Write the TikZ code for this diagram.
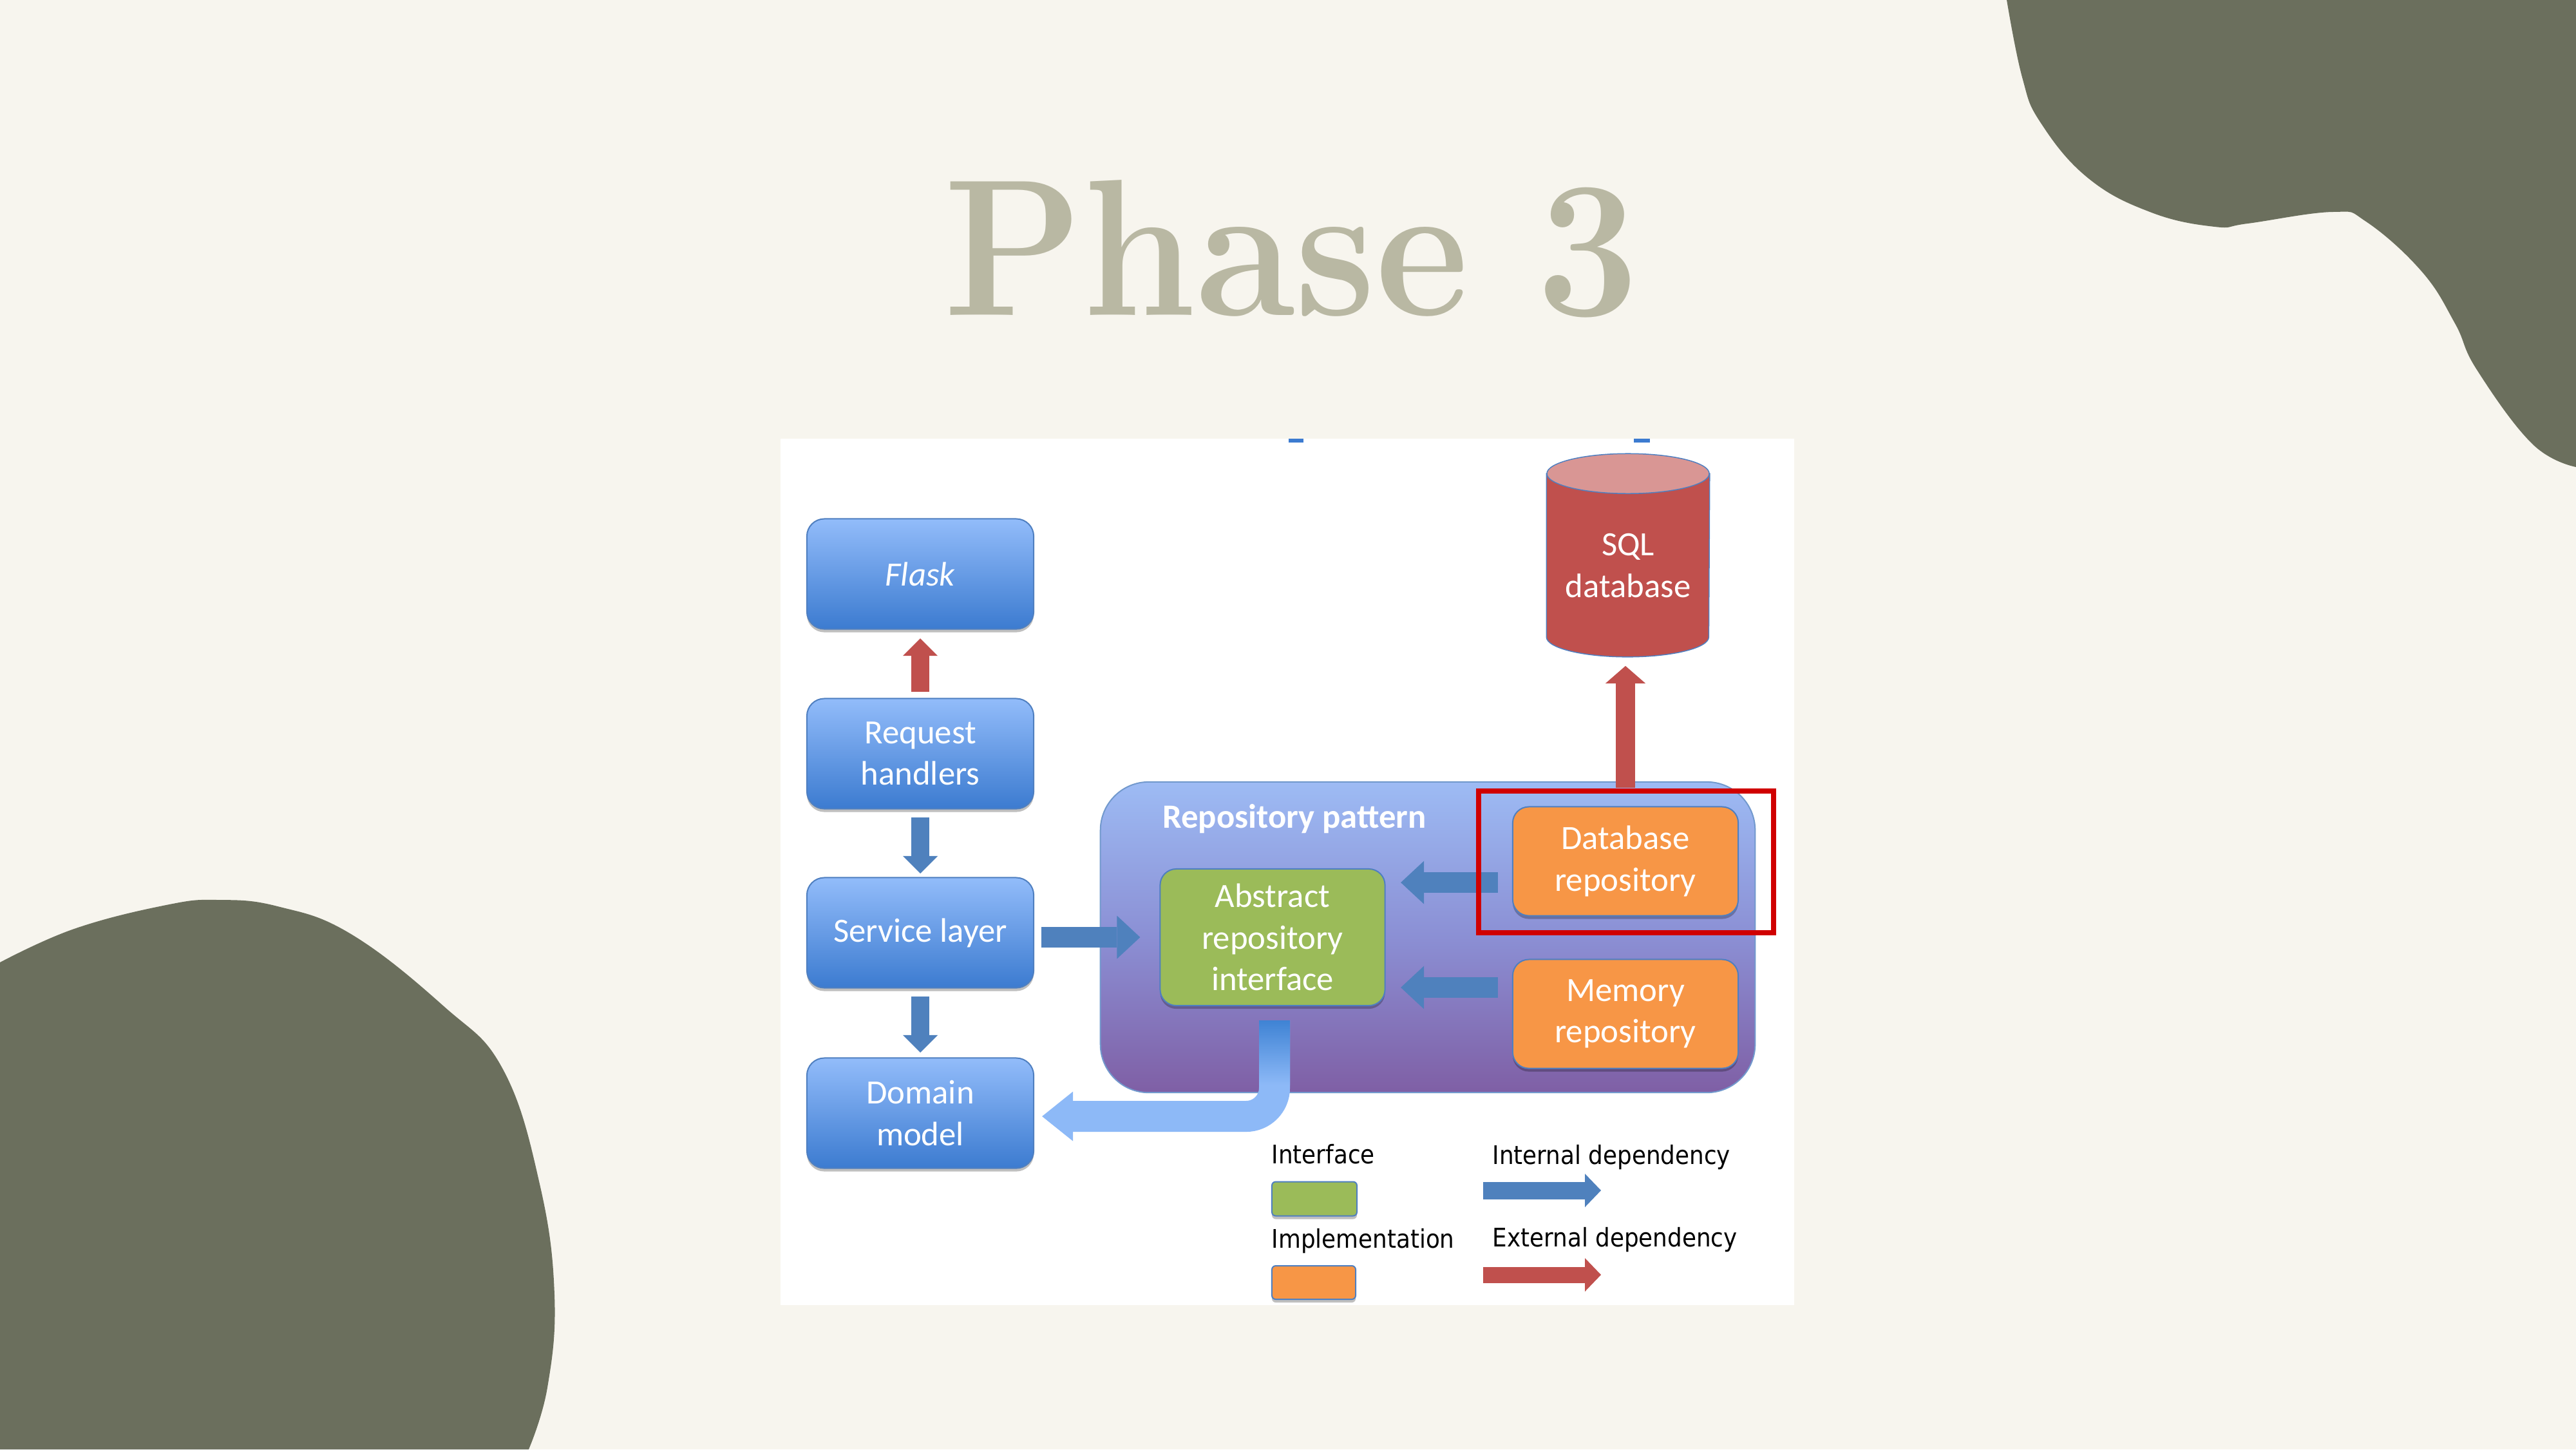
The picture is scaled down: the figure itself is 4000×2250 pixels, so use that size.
\documentclass[tikz,border=0pt]{standalone}
\usepackage{fontspec}
\newfontfamily\boxfont{Carlito}
\newfontfamily\legendfont{DejaVu Sans Condensed}
\usetikzlibrary{arrows.meta,shadows,positioning,calc}

\definecolor{cream}{HTML}{F7F5EE}
\definecolor{blob}{HTML}{6B6F5D}
\definecolor{titlegray}{HTML}{B9B8A3}
\definecolor{boxtop}{HTML}{92BCFA}
\definecolor{boxbot}{HTML}{3C7BD0}
\definecolor{boxedge}{HTML}{4F7FC0}
\definecolor{arrblue}{HTML}{4F81BD}
\definecolor{arrred}{HTML}{C0504D}
\definecolor{ifgreen}{HTML}{9BBB59}
\definecolor{imporange}{HTML}{F79646}
\definecolor{repotop}{HTML}{9DBBF4}
\definecolor{repomid}{HTML}{8B8FD4}
\definecolor{repobot}{HTML}{7F5FA5}
\definecolor{hlred}{HTML}{D00000}
\definecolor{dbtop}{HTML}{D99694}
\definecolor{bendtop}{HTML}{3F83D4}
\definecolor{bendlight}{HTML}{8DB9F7}

\begin{document}
\begin{tikzpicture}[x=0.01cm,y=-0.01cm,
  boxbase/.style={rounded corners=0.25cm, draw=boxedge, line width=0.02cm, text=white, align=center,
    font=\boxfont\fontsize{15}{18.3}\selectfont,
    drop shadow={shadow xshift=0cm, shadow yshift=-0.05cm, opacity=0.25, fill=black}},
  layer/.style={boxbase, rounded corners=0.27cm, minimum width=3.52cm, minimum height=1.71cm,
    top color=boxtop, bottom color=boxbot},
  iface/.style={boxbase, fill=ifgreen, minimum width=3.49cm, minimum height=2.12cm},
  impl/.style={boxbase, fill=imporange, minimum width=3.50cm, minimum height=1.69cm},
  repo/.style={rounded corners=0.75cm, minimum width=10.16cm, minimum height=4.82cm,
    top color=repotop, bottom color=repobot, middle color=repomid, draw=boxedge!80, line width=0.02cm},
  legend/.style={inner sep=0pt, anchor=base west, font=\legendfont\fontsize{11.3}{13.5}\selectfont},
  intdep/.style={arrblue, line width=0.28cm, -{Triangle[length=0.27cm, width=0.54cm, line width=0pt]}},
  extdep/.style={arrred, line width=0.28cm, -{Triangle[length=0.27cm, width=0.54cm, line width=0pt]}},
  wide/.style={line width=0.32cm, -{Triangle[length=0.36cm, width=0.67cm, line width=0pt]}}]

\useasboundingbox[fill=cream] (0,0) rectangle (4000,2250);
\fill[blob] plot[smooth, tension=0.7] coordinates {(3116,0) (3140,120) (3169,191) (3243,277) (3341,330)
  (3439,352) (3490,347) (3622,329) (3674,344) (3760,421) (3812,502) (3846,574) (3932,689) (4000,725)}
  -- (4000,0) -- cycle;
\fill[blob] plot[smooth, tension=0.7] coordinates {(0,1494) (115,1442) (258,1405) (339,1397) (431,1407)
  (545,1450) (689,1562) (781,1660) (838,1838) (861,2010) (850,2154) (821,2250)}
  -- (0,2250) -- cycle;

\node[text=titlegray, font=\bfseries\fontsize{86}{90}\selectfont, anchor=base] (title) at (2005,489) {\scalebox{0.93}[1]{Phase 3}};

\fill[white] (1212,681) rectangle (2786,2026);
\fill[boxbot] (2001,681) rectangle (2024,687);
\fill[boxbot] (2537,681) rectangle (2562,687);

\node[layer] (flask) at (1429,891) {\textit{Flask}};
\node[layer] (handlers) at (1429,1170) {Request\\handlers};
\node[layer] (service) at (1429,1448) {Service layer};
\node[layer] (domain) at (1429,1728) {Domain\\model};

\node[repo] (pattern) at (2217,1455) {};
\node[text=white, font=\boxfont\bfseries\fontsize{15}{18}\selectfont] (patlabel) at (2010,1271) {Repository pattern};
\node[iface] (abstract) at (1976,1455) {Abstract\\repository\\interface};
\node[impl] (dbrepo) at (2524,1337) {Database\\repository};
\node[impl] (memrepo) at (2524,1574) {Memory\\repository};

\node[minimum width=2.52cm, minimum height=2.52cm, inner sep=0pt] (sql) at (2528,862) {};
\fill[arrred, draw=boxedge, line width=0.015cm] (sql.north west) -- (sql.south west)
  arc[start angle=180, end angle=360, x radius=1.26cm, y radius=0.31cm] -- (sql.north east) -- cycle;
\fill[dbtop, draw=boxedge, line width=0.015cm] (sql.north) ellipse[x radius=1.26cm, y radius=0.31cm];
\node[text=white, align=center, font=\boxfont\fontsize{15}{18.3}\selectfont] (sqltext) at ($(sql.center)+(0,16)$) {SQL\\database};

\draw[extdep, shorten <=0.09cm, shorten >=0.135cm] (handlers) -- (flask);
\draw[intdep, shorten <=0.125cm, shorten >=0.055cm] (handlers) -- (service);
\draw[intdep, shorten <=0.125cm, shorten >=0.075cm] (service) -- (domain);
\draw[intdep, wide, shorten <=0.11cm, shorten >=0.30cm] (service.east |- abstract.west) -- (abstract.west);
\draw[intdep, wide, shorten <=0.22cm, shorten >=0.235cm] ($(dbrepo.west)+(0,33)$) -- ($(dbrepo.west -| abstract.east)+(0,33)$);
\draw[intdep, wide, shorten <=0.22cm, shorten >=0.235cm] ($(memrepo.west)+(0,-41)$) -- ($(memrepo.west -| abstract.east)+(0,-41)$);
\draw[arrred, line width=0.30cm, -{Triangle[length=0.27cm, width=0.62cm, line width=0pt]},
  shorten <=0.285cm, shorten >=0.45cm] (dbrepo.north) -- (dbrepo.north |- sql.south);

\draw[bendlight, line width=0.48cm, rounded corners=0.44cm, -{Triangle[length=0.48cm, width=0.77cm, line width=0pt]},
  shorten <=0.22cm, shorten >=0.12cm] ($(abstract.south)+(3,0)$) |- ($(domain.east)+(0,5)$);
\shade[top color=bendtop, bottom color=bendlight] ($(abstract.south)+(-21,22)$) rectangle ($(abstract.south)+(27,122)$);

\node[draw=hlred, line width=0.08cm, minimum width=4.57cm, minimum height=2.20cm] (focus) at (2525,1338) {};

\node[iface, minimum width=1.32cm, minimum height=0.53cm, rounded corners=0.06cm] (ifkey) at (2041,1861) {};
\node[impl, minimum width=1.30cm, minimum height=0.52cm, rounded corners=0.06cm] (impkey) at (2040,1991) {};
\node[legend] (iftext) at (1974,1806) {Interface};
\node[legend] (imptext) at (1974,1937) {Implementation};
\node[legend] (inttext) at (2317,1807) {Internal dependency};
\node[legend] (exttext) at (2317,1935) {External dependency};
\coordinate (intfrom) at (2303,1848);
\coordinate (intto) at (2486,1848);
\draw[intdep, line width=0.27cm, -{Triangle[length=0.25cm, width=0.52cm, line width=0pt]}] (intfrom) -- (intto);
\coordinate (extfrom) at (2303,1979);
\coordinate (extto) at (2486,1979);
\draw[extdep, line width=0.25cm, -{Triangle[length=0.25cm, width=0.52cm, line width=0pt]}] (extfrom) -- (extto);
\end{tikzpicture}
\end{document}
